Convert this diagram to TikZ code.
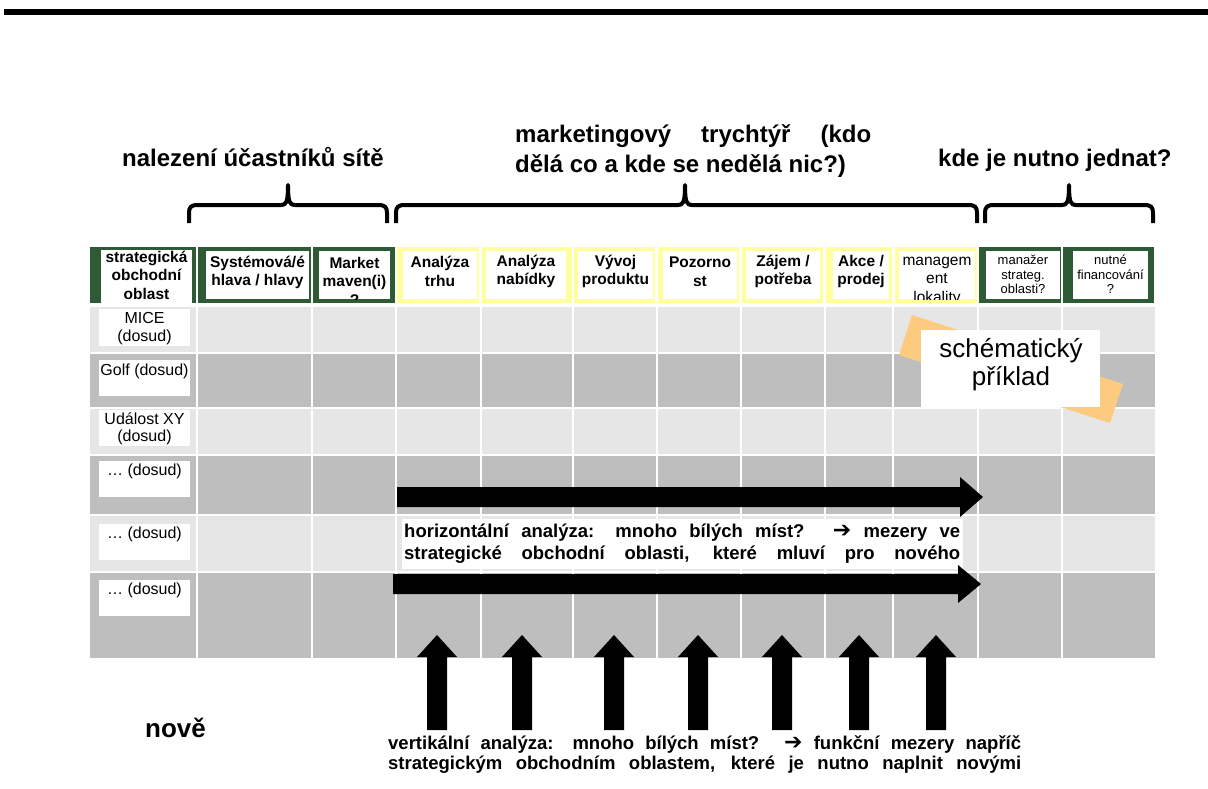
\documentclass[tikz,border=0pt]{standalone}
\usepackage{fontspec}
\setmainfont{Liberation Sans}
\newfontfamily\arrowfont{DejaVu Sans}
\definecolor{cellgreen}{HTML}{2E5B35}
\definecolor{cellyellow}{HTML}{FFFF9E}
\definecolor{rowlight}{HTML}{E6E6E6}
\definecolor{rowdark}{HTML}{BEBEBE}
\definecolor{noteorange}{HTML}{FDCB80}
\newcommand\thinkarrow{{\arrowfont\fontsize{22}{22}\selectfont ➔}}
\tikzset{
  hdr/.style={font={\fontsize{15.5}{18.5}\selectfont\bfseries}, align=center, inner sep=0pt},
  hdrn/.style={font={\fontsize{15.5}{18.5}\selectfont}, align=center, inner sep=0pt},
  hdrs/.style={font={\fontsize{13}{14.5}\selectfont}, align=center, inner sep=0pt},
  rowlabel/.style={font={\fontsize{16}{17.5}\selectfont}, align=center, inner sep=0pt},
  title/.style={font={\fontsize{24}{29}\selectfont\bfseries}, inner sep=0pt, anchor=base west},
  remark/.style={font={\fontsize{18.5}{20}\selectfont\bfseries}, inner sep=0pt, anchor=base west},
  brace/.style={line width=4pt, line cap=butt, line join=round},
  gridline/.style={white, line width=2pt},
  blockarrow/.style={fill=black},
}
% header cell: x1, x2, colour, inner box x1, x2, y1, y2
\newcommand\hcell[7]{%
  \fill[#3] (#1,247) rectangle (#2,303);
  \fill[white] (#4,#6) rectangle (#5,#7);}
% curly brace over a group of columns: left, right, centre
\newcommand\topbrace[3]{%
  \draw[brace] (#1,223) -- (#1,213) .. controls (#1,207) and (#1+2,205) .. (#1+9,205)
    -- (#3-7,205) .. controls (#3-2,205) and (#3,203) .. (#3,185)
    .. controls (#3,203) and (#3+2,205) .. (#3+7,205)
    -- (#2-9,205) .. controls (#2-2,205) and (#2,207) .. (#2,213) -- (#2,223);}
% upward block arrow centred at x
\newcommand\uparrowblock[1]{%
  \fill[blockarrow] (#1-10,730) -- (#1-10,657) -- (#1-20,657) -- (#1,635)
    -- (#1+20,657) -- (#1+10,657) -- (#1+10,730) -- cycle;}
\begin{document}
\begin{tikzpicture}[x=1pt,y=-1pt]
\useasboundingbox (0,0) rectangle (1208,789);

% rule at the top of the page
\fill (4,9) rectangle (1208,15);

% group titles
\node[title] (tNetwork) at (122,167) {nalezení účastníků sítě};
\node[title] (tFunnelA) at (515,143) {\makebox[356pt][s]{marketingový trychtýř (kdo}};
\node[title] (tFunnelB) at (515,172) {dělá co a kde se nedělá nic?)};
\node[title] (tAction) at (938,167) {kde je nutno jednat?};

% braces
\topbrace{189}{387}{288}
\topbrace{396}{977}{685}
\topbrace{985}{1153}{1069}

% header row
\hcell{90}{196}{cellgreen}{101}{192}{250}{303}
\hcell{198}{311}{cellgreen}{206}{309}{251}{299}
\hcell{313}{395}{cellgreen}{319}{390}{251}{299}
\hcell{397}{479}{cellyellow}{403}{477}{251}{299}
\hcell{482}{572}{cellyellow}{486}{566}{251}{299}
\hcell{574}{655}{cellyellow}{578}{653}{251}{299}
\hcell{658}{739}{cellyellow}{663}{737}{251}{299}
\hcell{742}{823}{cellyellow}{746}{820}{251}{299}
\hcell{826}{892}{cellyellow}{833}{889}{251}{299}
\hcell{895}{977}{cellyellow}{899}{975}{251}{299}
\hcell{979}{1061}{cellgreen}{986}{1060}{251}{299}
\hcell{1063}{1154}{cellgreen}{1073}{1148}{251}{299}

\node[hdr] (h0) at (146.5,275) {strategická\\obchodní\\oblast};
\node[hdr] (h1) at (257.5,272.5) {Systémová/é\\hlava / hlavy};
\begin{scope}
  \clip (319,251) rectangle (390,299);
  \node[hdr] (h2) at (354.5,281) {Market\\maven(i)\\?};
\end{scope}
\node[hdr] (h3) at (440,271.5) {Analýza\\trhu};
\node[hdr] (h4) at (526,271.5) {Analýza\\nabídky};
\node[hdr] (h5) at (615.5,271.5) {Vývoj\\produktu};
\node[hdr] (h6) at (700,271.5) {Pozorno\\st};
\node[hdr] (h7) at (783,271.5) {Zájem /\\potřeba};
\node[hdr] (h8) at (861,271.5) {Akce /\\prodej};
\begin{scope}
  \clip (899,251) rectangle (975,299);
  \node[hdrn] (h9) at (937,281) {managem\\ent\\lokality};
\end{scope}
\node[hdrs] (h10) at (1023,274.5) {manažer\\strateg.\\oblasti?};
\node[hdrs] (h11) at (1110.5,274.5) {nutné\\financování\\?};

% body rows
\fill[rowlight] (90,307) rectangle (1155,352);
\fill[rowdark]  (90,354) rectangle (1155,407);
\fill[rowlight] (90,409) rectangle (1155,454);
\fill[rowdark]  (90,456) rectangle (1155,514);
\fill[rowlight] (90,516) rectangle (1155,571);
\fill[rowdark]  (90,573) rectangle (1155,658);
\foreach \x in {197,312,396,481,573,657,741,825,893,978,1062}
  {\draw[gridline] (\x,307) -- (\x,658);}

% row labels
\fill[white] (99,309) rectangle (190,346);
\node[rowlabel] (r1) at (144.5,328.5) {MICE\\(dosud)};
\fill[white] (99,360) rectangle (190,396);
\node[rowlabel] (r2) at (144.5,371) {Golf (dosud)};
\fill[white] (99,410) rectangle (190,446);
\node[rowlabel] (r3) at (144.5,429) {Událost XY\\(dosud)};
\fill[white] (99,461) rectangle (190,497);
\node[rowlabel] (r4) at (144.5,471) {… (dosud)};
\fill[white] (99,524) rectangle (190,560);
\node[rowlabel] (r5) at (144.5,534) {… (dosud)};
\fill[white] (99,580) rectangle (190,616);
\node[rowlabel] (r6) at (144.5,590) {… (dosud)};

% sticky note with its label card
\fill[noteorange] (912,315) -- (1123,384) -- (1110,423) -- (899,355) -- cycle;
\fill[white] (921,330) rectangle (1100,407);
\node[font={\fontsize{26}{28}\selectfont}, align=center, inner sep=0pt] (example) at (1011,365) {schématický\\příklad};

% horizontal analysis
\fill[blockarrow] (397,487) -- (960,487) -- (960,477) -- (983,497) -- (960,517) -- (960,507) -- (397,507) -- cycle;
\fill[white] (402,519) rectangle (963,569);
\node[remark] (hz1) at (404,537) {\makebox[556pt][s]{horizontální analýza: mnoho bílých míst? \thinkarrow{} mezery ve}};
\node[remark] (hz2) at (404,559) {\makebox[556pt][s]{strategické obchodní oblasti, které mluví pro nového}};
\fill[blockarrow] (393,574) -- (958,574) -- (958,565) -- (981,584) -- (958,603) -- (958,594) -- (393,594) -- cycle;

% vertical analysis
\foreach \x in {437,522,614,698,782,859,936} {\uparrowblock{\x}}
\node[remark] (vt1) at (388,749) {\makebox[633pt][s]{vertikální analýza: mnoho bílých míst? \thinkarrow{} funkční mezery napříč}};
\node[remark] (vt2) at (388,769) {\makebox[633pt][s]{strategickým obchodním oblastem, které je nutno naplnit novými}};

\node[font={\fontsize{26}{30}\selectfont\bfseries}, inner sep=0pt, anchor=base west] (new) at (145,737) {nově};
\end{tikzpicture}
\end{document}
